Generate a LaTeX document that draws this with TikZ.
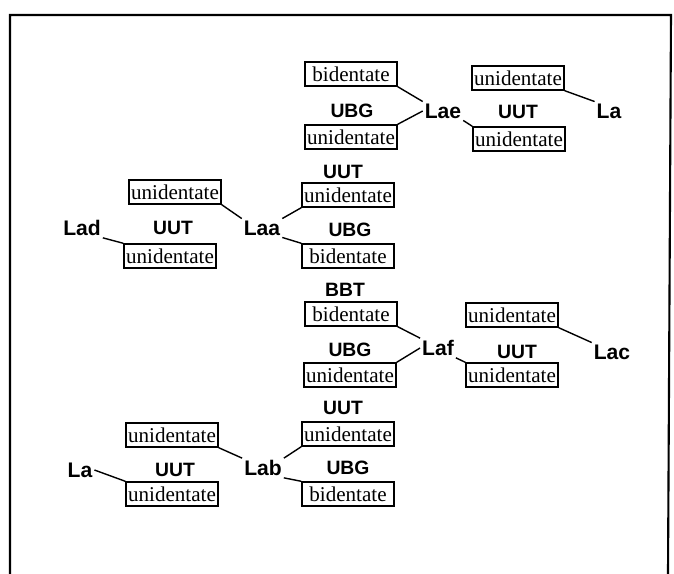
\documentclass[tikz,border=0pt]{standalone}
\usepackage{fontspec}
\setmainfont{Liberation Serif}
\setsansfont{Liberation Sans}

\begin{document}
\begin{tikzpicture}[x=0.02cm,y=-0.02cm]
  \tikzset{
    lig box/.style={draw, line width=0.8pt, minimum width=1.84cm, minimum height=0.48cm,
      inner sep=1pt, font=\fontsize{12}{13}\selectfont},
    lig name/.style={inner sep=1pt, font=\sffamily\bfseries\fontsize{12}{14}\selectfont},
    tag/.style={inner sep=1pt, font=\sffamily\bfseries\fontsize{11}{13}\selectfont},
    bond/.style={line width=0.8pt}
  }
  \useasboundingbox (0,0) rectangle (674,574);

  % frame
  \draw [line width=1.2pt] (10,574) -- (10,15) -- (671,15) -- (668,574);

  % Lae
  \node [lig box] (eB) at (351,74) {bidentate};
  \node [lig box] (eU1) at (351,137) {unidentate};
  \node [tag] (eT1) at (352,111) {UBG};
  \node [lig name] (Lae) at (443,111) {Lae};
  \node [lig box] (eU2) at (518,78) {unidentate};
  \node [tag] (eT2) at (518,112) {UUT};
  \node [lig box] (eU3) at (519,139) {unidentate};
  \node [lig name] (La1) at (609,111) {La};

  \draw [bond] (eB.south east) -- (Lae.north west);
  \draw [bond] (eU1.north east) -- (Lae.west);
  \draw [bond] (Lae.south east) -- (eU3.north west);
  \draw [bond] (eU2.south east) -- (La1.north west);

  % Laa
  \node [lig box] (aU1) at (175,192) {unidentate};
  \node [lig name] (Lad) at (82,228) {Lad};
  \node [tag] (aT1) at (173,228) {UUT};
  \node [lig box] (aU2) at (170,256) {unidentate};
  \node [lig name] (Laa) at (262,228) {Laa};
  \node [tag] (aT2) at (343,172) {UUT};
  \node [lig box] (aU3) at (348,195) {unidentate};
  \node [tag] (aT3) at (350,230) {UBG};
  \node [lig box] (aB) at (348,256) {bidentate};

  \draw [bond] (aU1.south east) -- (Laa.north west);
  \draw [bond] (Lad.south east) -- (aU2.north west);
  \draw [bond] (Laa.north east) -- (aU3.south west);
  \draw [bond] (Laa.south east) -- (aB.north west);

  % Laf
  \node [tag] (fT1) at (345,290) {BBT};
  \node [lig box] (fB) at (351,314) {bidentate};
  \node [tag] (fT2) at (350,350) {UBG};
  \node [lig box] (fU1) at (350,375) {unidentate};
  \node [lig name] (Laf) at (438,348) {Laf};
  \node [lig box] (fU2) at (512,315) {unidentate};
  \node [tag] (fT3) at (517,352) {UUT};
  \node [lig box] (fU3) at (512,375) {unidentate};
  \node [lig name] (Lac) at (612,352) {Lac};

  \draw [bond] (fB.south east) -- (Laf.north west);
  \draw [bond] (fU1.north east) -- (Laf.west);
  \draw [bond] (Laf.south east) -- (fU3.north west);
  \draw [bond] (fU2.south east) -- (Lac.north west);

  % Lab
  \node [tag] (bT1) at (343,408) {UUT};
  \node [lig box] (bU1) at (348,434) {unidentate};
  \node [lig box] (bU2) at (172,435) {unidentate};
  \node [lig name] (Lab) at (263,468) {Lab};
  \node [tag] (bT2) at (348,468) {UBG};
  \node [lig box] (bB) at (348,494) {bidentate};
  \node [lig name] (La2) at (80,470) {La};
  \node [tag] (bT3) at (175,470) {UUT};
  \node [lig box] (bU3) at (172,494) {unidentate};

  \draw [bond] (bU2.south east) -- (Lab.north west);
  \draw [bond] (Lab.north east) -- (bU1.south west);
  \draw [bond] (Lab.south east) -- (bB.north west);
  \draw [bond] (La2.east) -- (bU3.north west);
\end{tikzpicture}
\end{document}
